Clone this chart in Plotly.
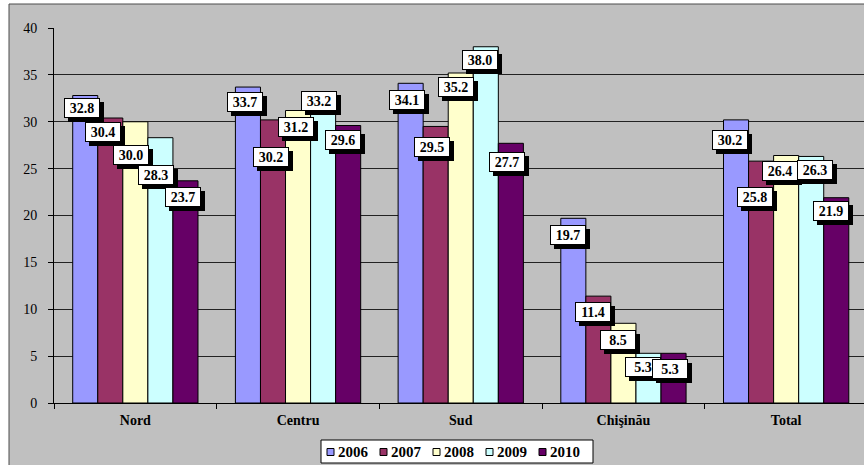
import plotly.graph_objects as go

categories = ["Nord", "Centru", "Sud", "Chişinău", "Total"]
years = ["2006", "2007", "2008", "2009", "2010"]
v2006 = [32.8, 33.7, 34.1, 19.7, 30.2]
v2007 = [30.4, 30.2, 29.5, 11.4, 25.8]
v2008 = [30.0, 31.2, 35.2, 8.5, 26.4]
v2009 = [28.3, 33.2, 38.0, 5.3, 26.3]
v2010 = [23.7, 29.6, 27.7, 5.3, 21.9]
series = [v2006, v2007, v2008, v2009, v2010]
colors = ["#9999FF", "#993366", "#FFFFCC", "#CCFFFF", "#660066"]

# label placement offsets (px): below bar top, horizontal shift
label_dy = [
    [12, 14, 33, 37, 16],
    [15, 37, 16, 9, 14],
    [17, 21, 14, 13, 19],
    [17, 16, 17, 14, 16],
    [20, 36, 15, 14, 13],
]
label_dx = [
    [-3, -7, -4, -4, -2],
    [-3, -2, -2, -4, -5],
    [-4, -4, -5, -6, -4],
    [-5, -5, -5, -6, -4],
    [-6, -6, -6, 4, -5],
]

BARGAP = 0.23
serif = "'Liberation Serif', 'Times New Roman', Tinos, 'DejaVu Serif', serif"

W, H = 864, 465
ml, mr, mt, mb = 54, 0, 28, 62
pw, ph = W - ml - mr, H - mt - mb


def px2paper_x(px):
    return (px - ml) / pw


def px2paper_y(py):
    return (H - mb - py) / ph


fig = go.Figure()
for yr, vals, col in zip(years, series, colors):
    fig.add_trace(go.Bar(
        x=categories, y=vals, name=yr,
        marker=dict(color=col, line=dict(color="#000000", width=1)),
        hoverinfo="skip", showlegend=False,
    ))

barw = (1 - BARGAP) / len(years)
annotations = []
for ci in range(len(categories)):
    for si, vals in enumerate(series):
        xc = ci + (si - (len(years) - 1) / 2) * barw
        v = vals[ci]
        txt = f"<b>{v:.1f}</b>"
        dy = label_dy[ci][si]
        dx = label_dx[ci][si]
        annotations.append(dict(
            x=xc, y=v, xref="x", yref="y", text=txt, showarrow=False,
            font=dict(family=serif, size=14, color="#000000"),
            bgcolor="#000000", bordercolor="#000000", borderwidth=1, borderpad=1,
            width=32, height=16, xshift=dx + 4, yshift=-dy - 4,
        ))
        annotations.append(dict(
            x=xc, y=v, xref="x", yref="y", text=txt, showarrow=False,
            font=dict(family=serif, size=14, color="#000000"),
            bgcolor="#FFFFFF", bordercolor="#000000", borderwidth=1, borderpad=1,
            width=32, height=16, xshift=dx, yshift=-dy,
        ))

shapes = [dict(
    type="rect", xref="paper", yref="paper",
    x0=px2paper_x(9), x1=px2paper_x(W + 20),
    y0=px2paper_y(H + 20), y1=px2paper_y(4),
    fillcolor="#C0C0C0", line=dict(color="#4D4D4D", width=1), layer="below",
)]

# manual legend (box, swatches, labels)
leg_left, leg_top, leg_right, leg_bottom = 321, 440, 593, 463
item_pitch = 53
shapes.append(dict(
    type="rect", xref="paper", yref="paper",
    x0=px2paper_x(leg_left), x1=px2paper_x(leg_right),
    y0=px2paper_y(leg_bottom), y1=px2paper_y(leg_top),
    fillcolor="#FFFFFF", line=dict(color="#000000", width=1), layer="above",
))
for i, (yr, col) in enumerate(zip(years, colors)):
    sx = leg_left + 6 + i * item_pitch
    shapes.append(dict(
        type="rect", xref="paper", yref="paper",
        x0=px2paper_x(sx), x1=px2paper_x(sx + 7),
        y0=px2paper_y(455.5), y1=px2paper_y(448.5),
        fillcolor=col, line=dict(color="#000000", width=1), layer="above",
    ))
    annotations.append(dict(
        x=px2paper_x(sx + 9), y=px2paper_y(451.5), xref="paper", yref="paper",
        xanchor="left", yanchor="middle", showarrow=False,
        text=f"<b>{yr}</b>", font=dict(family=serif, size=15, color="#000000"),
    ))

fig.update_layout(
    width=W, height=H,
    margin=dict(l=ml, r=mr, t=mt, b=mb, pad=0),
    paper_bgcolor="#FFFFFF", plot_bgcolor="#FFFFFF",
    font=dict(family=serif),
    barmode="group", bargap=BARGAP, bargroupgap=0,
    showlegend=False,
    xaxis=dict(
        range=[-0.5, -0.5 + pw / 162.7], type="category",
        showline=True, linecolor="#000000", linewidth=1,
        ticks="outside", tickson="boundaries", ticklen=5, tickcolor="#000000",
        tickfont=dict(family=serif, size=14, color="#000000", weight="bold"),
        ticklabelstandoff=4,
        showgrid=False, fixedrange=True, automargin=False,
    ),
    yaxis=dict(
        range=[0, 40], dtick=5, tick0=0,
        showline=True, linecolor="#000000", linewidth=1,
        ticks="outside", ticklen=5, tickcolor="#000000",
        tickfont=dict(family=serif, size=14, color="#000000"),
        ticklabelstandoff=8,
        showgrid=True, gridcolor="#222222", gridwidth=1,
        zeroline=False, fixedrange=True, automargin=False,
    ),
    annotations=annotations,
    shapes=shapes,
)

fig.write_html(
    "out.html",
    config={"displayModeBar": False},
    post_script="document.body.style.margin='0px';document.body.style.overflow='hidden';",
)
